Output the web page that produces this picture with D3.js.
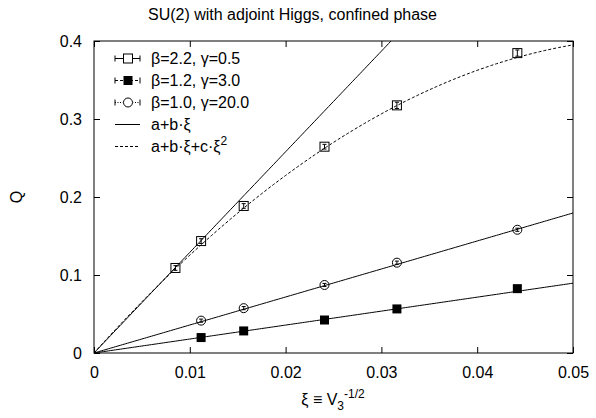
<!DOCTYPE html>
<html><head><meta charset="utf-8">
<script src="https://cdn.jsdelivr.net/npm/d3@7"></script>
<style>body{margin:0;background:#fff}svg{display:block}text{font-family:"Liberation Sans",Arial,sans-serif;fill:#000}</style>
</head><body>
<svg id="c" width="596" height="418"></svg>
<script>
const xiValues22 = [0.0085, 0.01118, 0.015625, 0.02406, 0.03162, 0.04419];
const q22 = [0.109, 0.1435, 0.1885, 0.2645, 0.3175, 0.3845];
const err22 = [0.003, 0.003, 0.003, 0.003, 0.004, 0.004];
const xiValues12 = [0.01118, 0.015625, 0.02406, 0.03162, 0.04419];
const q12 = [0.0198, 0.0283, 0.0423, 0.0565, 0.0825];
const err12 = [0.001, 0.001, 0.001, 0.001, 0.001];
const xiValues10 = [0.01118, 0.015625, 0.02406, 0.03162, 0.04419];
const q10 = [0.0415, 0.0575, 0.0872, 0.1158, 0.1580];
const err10 = [0.002, 0.002, 0.002, 0.002, 0.002];
const linFit22 = {a: 0, b: 12.9};
const quadFit22 = {a: 0, b: 13.7, c: -116};
const linFit12 = {a: 0, b: 1.79};
const linFit10 = {a: 0, b: 3.59};
const xTicks = [0, 0.01, 0.02, 0.03, 0.04, 0.05];
const yTicks = [0, 0.1, 0.2, 0.3, 0.4];
const xTickLabels = ["0", "0.01", "0.02", "0.03", "0.04", "0.05"];
const yTickLabels = ["0", "0.1", "0.2", "0.3", "0.4"];
const legendLabels = ["β=2.2, γ=0.5", "β=1.2, γ=3.0", "β=1.0, γ=20.0"];

const svg = d3.select("#c");
const L = 94, R = 573, T = 41, B = 353;
const x = d3.scaleLinear().domain([0, 0.05]).range([L, R]);
const y = d3.scaleLinear().domain([0, 0.4]).range([B, T]);

svg.append("defs").append("clipPath").attr("id", "clip")
  .append("rect").attr("x", L).attr("y", T).attr("width", R - L).attr("height", B - T);

// title
svg.append("text").attr("x", 292.5).attr("y", 20).attr("text-anchor", "middle")
  .attr("font-size", 16).text("SU(2) with adjoint Higgs, confined phase");

// frame
svg.append("rect").attr("x", L).attr("y", T).attr("width", R - L).attr("height", B - T)
  .attr("fill", "none").attr("stroke", "#000").attr("stroke-width", 1);

// axes (ticks inward, mirrored)
const tl = 6;
const gx = svg.append("g").attr("transform", `translate(0,${B})`)
  .call(d3.axisBottom(x).tickValues(xTicks).tickSize(-tl).tickPadding(14)
    .tickFormat((d, i) => xTickLabels[i]));
const gxt = svg.append("g").attr("transform", `translate(0,${T})`)
  .call(d3.axisTop(x).tickValues(xTicks).tickSize(-tl).tickFormat(""));
const gy = svg.append("g").attr("transform", `translate(${L},0)`)
  .call(d3.axisLeft(y).tickValues(yTicks).tickSize(-tl).tickPadding(12)
    .tickFormat((d, i) => yTickLabels[i]));
const gyr = svg.append("g").attr("transform", `translate(${R},0)`)
  .call(d3.axisRight(y).tickValues(yTicks).tickSize(-tl).tickFormat(""));
[gx, gxt, gy, gyr].forEach(g => {
  g.select(".domain").remove();
  g.selectAll("line").attr("stroke", "#000");
  g.selectAll("text").attr("font-size", 16).attr("fill", "#000")
    .attr("font-family", '"Liberation Sans",Arial,sans-serif');
});
gx.selectAll("text").attr("dy", "0.71em");

// axis labels
svg.append("text").attr("transform", "translate(22,197) rotate(-90)")
  .attr("text-anchor", "middle").attr("font-size", 16).text("Q");
const xl = svg.append("text").attr("x", 333).attr("y", 405).attr("text-anchor", "middle").attr("font-size", 16);
xl.append("tspan").text("ξ ≡ V");
xl.append("tspan").attr("font-size", 12).attr("dy", 5).text("3");
xl.append("tspan").attr("font-size", 12).attr("dy", -12).text("-1/2");

// fit curves
const plot = svg.append("g").attr("clip-path", "url(#clip)");
const xs = d3.range(0, 201).map(i => i * 0.05 / 200);
const line = d3.line().x(d => x(d[0])).y(d => y(d[1]));
function linCurve(f) { return xs.map(v => [v, f.a + f.b * v]); }
plot.append("path").attr("d", line(linCurve(linFit22))).attr("fill", "none").attr("stroke", "#000");
plot.append("path").attr("d", line(linCurve(linFit12))).attr("fill", "none").attr("stroke", "#000");
plot.append("path").attr("d", line(linCurve(linFit10))).attr("fill", "none").attr("stroke", "#000");
plot.append("path").attr("d", line(xs.map(v => [v, quadFit22.a + quadFit22.b * v + quadFit22.c * v * v])))
  .attr("fill", "none").attr("stroke", "#000").attr("stroke-dasharray", "3,2");

// error bars + markers
function errbars(xv, qv, ev, dash) {
  xv.forEach((v, i) => {
    const cx = x(v), y1 = y(qv[i] - ev[i]), y2 = y(qv[i] + ev[i]);
    const g = svg.append("g").attr("stroke", "#000").attr("stroke-width", 1);
    g.append("line").attr("x1", cx).attr("x2", cx).attr("y1", y1).attr("y2", y2).attr("stroke-dasharray", dash);
    g.append("line").attr("x1", cx - 2).attr("x2", cx + 2).attr("y1", y1).attr("y2", y1);
    g.append("line").attr("x1", cx - 2).attr("x2", cx + 2).attr("y1", y2).attr("y2", y2);
  });
}
function openSquare(g, cx, cy) {
  g.append("rect").attr("x", cx - 4.5).attr("y", cy - 4.5).attr("width", 9).attr("height", 9)
    .attr("fill", "none").attr("stroke", "#000");
}
function filledSquare(g, cx, cy) {
  g.append("rect").attr("x", cx - 4.5).attr("y", cy - 4.5).attr("width", 9).attr("height", 9)
    .attr("fill", "#000");
}
function openCircle(g, cx, cy) {
  g.append("circle").attr("cx", cx).attr("cy", cy).attr("r", 4.5).attr("fill", "none").attr("stroke", "#000");
}
const mk = svg.append("g");
xiValues22.forEach((v, i) => openSquare(mk, x(v), y(q22[i])));
errbars(xiValues22, q22, err22, null);
xiValues12.forEach((v, i) => filledSquare(mk, x(v), y(q12[i])));
xiValues10.forEach((v, i) => openCircle(mk, x(v), y(q10[i])));
errbars(xiValues10, q10, err10, null);

// legend
const lg = svg.append("g");
const ly = [58.5, 80.5, 102.5, 124.5, 146.5];
const sx1 = 115, sx2 = 140, sxc = 128, tx = 151;
const dashes = [null, "3,2", "1,1.5"];
const markerFns = [openSquare, filledSquare, openCircle];
legendLabels.forEach((lab, i) => {
  const yy = ly[i];
  lg.append("line").attr("x1", sx1).attr("x2", sx2).attr("y1", yy).attr("y2", yy)
    .attr("stroke", "#000").attr("stroke-dasharray", dashes[i]);
  lg.append("line").attr("x1", sx1).attr("x2", sx1).attr("y1", yy - 3).attr("y2", yy + 3).attr("stroke", "#000");
  lg.append("line").attr("x1", sx2).attr("x2", sx2).attr("y1", yy - 3).attr("y2", yy + 3).attr("stroke", "#000");
  if (i === 2) {
    lg.append("circle").attr("cx", sxc).attr("cy", yy).attr("r", 5.5).attr("fill", "#fff").attr("stroke", "none");
  } else if (i === 0) {
    lg.append("rect").attr("x", sxc - 5).attr("y", yy - 5).attr("width", 10).attr("height", 10).attr("fill", "#fff");
  }
  markerFns[i](lg, sxc, yy);
  lg.append("text").attr("x", tx).attr("y", yy).attr("dy", "0.36em").attr("font-size", 16).text(lab);
});
lg.append("line").attr("x1", sx1).attr("x2", sx2).attr("y1", ly[3]).attr("y2", ly[3]).attr("stroke", "#000");
lg.append("text").attr("x", tx).attr("y", ly[3]).attr("dy", "0.36em").attr("font-size", 16).text("a+b·ξ");
lg.append("line").attr("x1", sx1).attr("x2", sx2).attr("y1", ly[4]).attr("y2", ly[4]).attr("stroke", "#000").attr("stroke-dasharray", "3,2");
const t5 = lg.append("text").attr("x", tx).attr("y", ly[4]).attr("dy", "0.36em").attr("font-size", 16);
t5.append("tspan").text("a+b·ξ+c·ξ");
t5.append("tspan").attr("font-size", 12).attr("dy", -7).text("2");
</script>
</body></html>
